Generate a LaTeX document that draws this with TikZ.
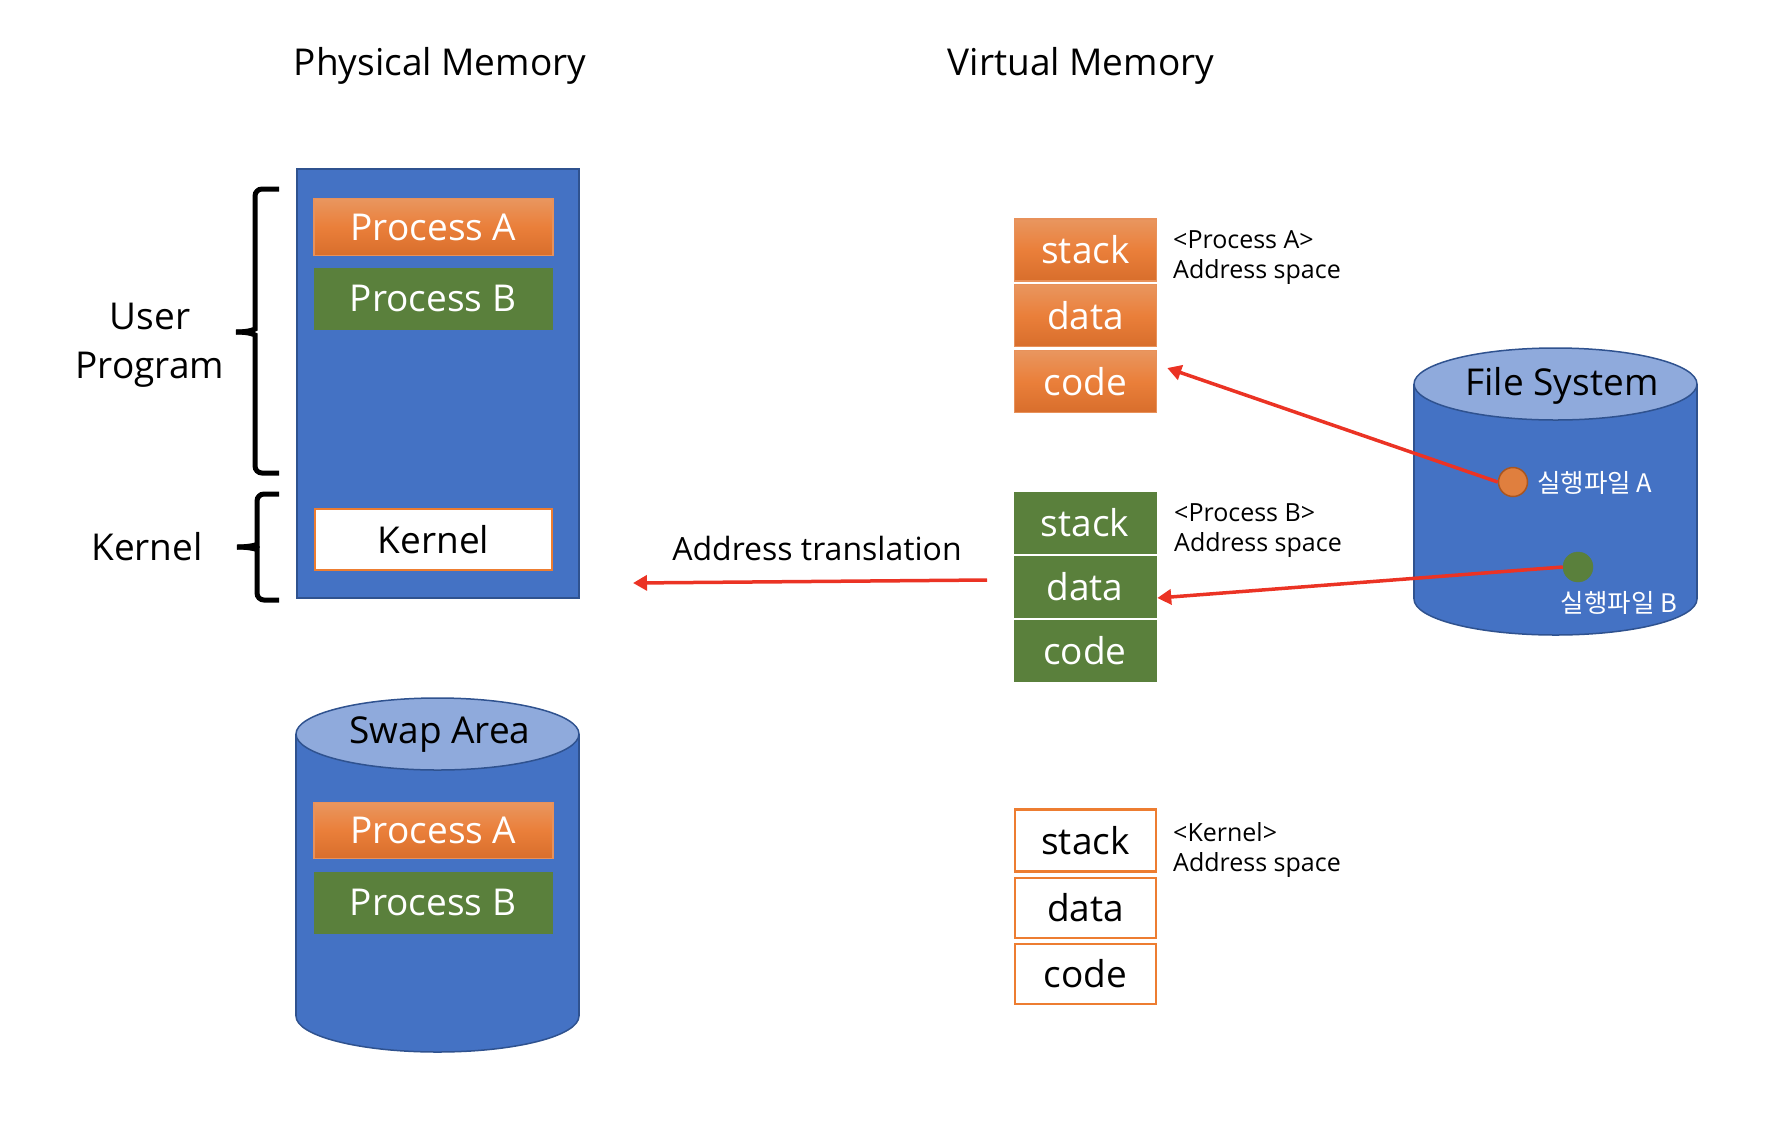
\documentclass[tikz,border=0pt]{standalone}
\usepackage{fontspec}
\setmainfont{Open Sans}
\newfontfamily\krfont{Noto Sans CJK KR}
\usetikzlibrary{arrows.meta}
\definecolor{blueF}{HTML}{4472C4}
\definecolor{blueL}{HTML}{2F528F}
\definecolor{blueT}{HTML}{8FAADC}
\definecolor{oraT}{HTML}{E9965F}
\definecolor{oraM}{HTML}{EA7F3A}
\definecolor{oraB}{HTML}{D86E2C}
\definecolor{oraL}{HTML}{ED7D31}
\definecolor{oraLL}{HTML}{E8915A}
\definecolor{grnF}{HTML}{5A803C}
\definecolor{redA}{HTML}{EB3324}
\definecolor{oraDot}{HTML}{E07F3E}
\definecolor{oraDotL}{HTML}{A95620}
\newcommand\BigTxt{\fontsize{37}{44}\selectfont}
\newcommand\MidTxt{\fontsize{32}{38}\selectfont}
\newcommand\SmTxt{\fontsize{25}{30}\selectfont}
\newcommand\KrTxt{\krfont\fontsize{25.5}{30}\selectfont}
\tikzset{
  orabox/.style={rectangle, top color=oraT, bottom color=oraB, middle color=oraM, draw=oraLL, line width=1.5pt, text=white, font=\BigTxt, inner sep=0pt},
  grnbox/.style={rectangle, fill=grnF, draw=grnF, line width=0.5pt, text=white, font=\BigTxt, inner sep=0pt},
  whtbox/.style={rectangle, fill=white, draw=oraL, line width=2.5pt, text=black, font=\BigTxt, inner sep=0pt},
  memrect/.style={rectangle, fill=blueF, draw=blueL, line width=1.5pt, inner sep=0pt},
  redarrow/.style={draw=redA, line width=3.5pt, -{Triangle[length=14pt,width=15pt]}},
  bracestyle/.style={line width=5pt, rounded corners=7pt},
  spacelbl/.style={anchor=west, align=left, font=\SmTxt, inner sep=0pt},
}
\begin{document}
\begin{tikzpicture}[x=1pt,y=1pt]
\useasboundingbox (0,0) rectangle (1770,-1120);

% titles
\node[font=\BigTxt] (tphys) at (440,-65.5) {Physical Memory};
\node[font=\BigTxt] (tvirt) at (1081,-65.5) {Virtual Memory};

% physical memory
\node[memrect, minimum width=282pt, minimum height=429pt] (phys) at (438,-383.5) {};
\node[orabox, minimum width=239pt, minimum height=57pt] (pA) at (433.5,-227) {Process A};
\node[grnbox, minimum width=238pt, minimum height=61pt] (pB) at (433,-298.5) {Process B};
\node[whtbox, minimum width=237pt, minimum height=61pt] (pK) at (433.5,-539.5) {Kernel};

% braces
\draw[bracestyle] (279,-189) -- (255,-189) -- (255,-322) .. controls (255,-329) and (250,-332) .. (236,-332);
\draw[bracestyle] (236,-332) .. controls (250,-332) and (255,-335) .. (255,-342) -- (255,-473) -- (279,-473);
\draw[bracestyle] (279,-494) -- (257,-494) -- (257,-538) .. controls (257,-544) and (252,-547) .. (237,-547);
\draw[bracestyle] (237,-547) .. controls (252,-547) and (257,-550) .. (257,-556) -- (257,-600) -- (279,-600);
\node[font=\BigTxt, align=center] (luser) at (150,-345.5) {User\\[5pt]Program};
\node[font=\BigTxt] (lkern) at (147,-547) {Kernel};

% swap area cylinder
\filldraw[fill=blueF, draw=blueL, line width=1.5pt] (437.5,-1016) ellipse [x radius=141.5, y radius=36];
\fill[blueF] (296,-734) rectangle (579,-1016);
\draw[blueL, line width=1.5pt] (296,-734) -- (296,-1016) (579,-734) -- (579,-1016);
\filldraw[fill=blueT, draw=blueL, line width=1.5pt] (437.5,-734) ellipse [x radius=141.5, y radius=36];
\node[font=\BigTxt] (swap) at (440,-734.5) {Swap Area};
\node[orabox, minimum width=239pt, minimum height=56pt] (sA) at (433.5,-830.5) {Process A};
\node[grnbox, minimum width=238pt, minimum height=61pt] (sB) at (433,-902.5) {Process B};

% virtual memory: process A
\node[orabox, minimum width=142pt, minimum height=62pt] (stackA) at (1085.5,-250) {stack};
\node[orabox, minimum width=142pt, minimum height=62pt] (dataA) at (1085.5,-315.5) {data};
\node[orabox, minimum width=142pt, minimum height=62pt] (codeA) at (1085.5,-381.5) {code};
\node[spacelbl] (lblA) at (1173,-257.5) {<Process A>\\Address space};

% process B
\node[grnbox, minimum width=142pt, minimum height=61pt] (stackB) at (1085,-522.5) {stack};
\node[grnbox, minimum width=142pt, minimum height=61pt] (dataB) at (1085,-586.5) {data};
\node[grnbox, minimum width=142pt, minimum height=61pt] (codeB) at (1085,-651) {code};
\node[spacelbl] (lblB) at (1174,-531) {<Process B>\\Address space};

% kernel
\node[whtbox, minimum width=141pt, minimum height=62pt] (stackK) at (1085.5,-840.5) {stack};
\node[whtbox, minimum width=141pt, minimum height=60pt] (dataK) at (1085.5,-908) {data};
\node[whtbox, minimum width=141pt, minimum height=60pt] (codeK) at (1085.5,-974) {code};
\node[spacelbl] (lblK) at (1173,-849.5) {<Kernel>\\Address space};

% file system cylinder
\filldraw[fill=blueF, draw=blueL, line width=1.5pt] (1555.5,-599) ellipse [x radius=141.5, y radius=36];
\fill[blueF] (1414,-384) rectangle (1697,-599);
\draw[blueL, line width=1.5pt] (1414,-384) -- (1414,-599) (1697,-384) -- (1697,-599);
\filldraw[fill=blueT, draw=blueL, line width=1.5pt] (1555.5,-384) ellipse [x radius=141.5, y radius=36];
\node[font=\BigTxt] (fs) at (1562,-385.5) {File System};

\node[circle, fill=oraDot, draw=oraDotL, line width=1.5pt, minimum size=29pt, inner sep=0pt] (fa) at (1513,-482) {};
\node[anchor=west, text=white, font=\KrTxt, inner sep=0pt] (fal) at (1537,-483) {실행파일 A};
\node[circle, fill=grnF, draw=grnF, minimum size=30pt, inner sep=0pt] (fb) at (1578,-567) {};
\node[text=white, font=\KrTxt, inner sep=0pt] (fbl) at (1619,-603) {실행파일 B};

% arrows
\draw[redarrow] (fa.west) -- ([shift={(10,13.5)}]codeA.east);
\draw[redarrow] (fb.west) -- ([shift={(1,-11.5)}]dataB.east);
\coordinate (atS) at (987,-580);
\coordinate (atE) at (633,-583);
\draw[redarrow] (atS) -- (atE);
\node[font=\MidTxt] (atl) at (817,-548) {Address translation};
\end{tikzpicture}
\end{document}
